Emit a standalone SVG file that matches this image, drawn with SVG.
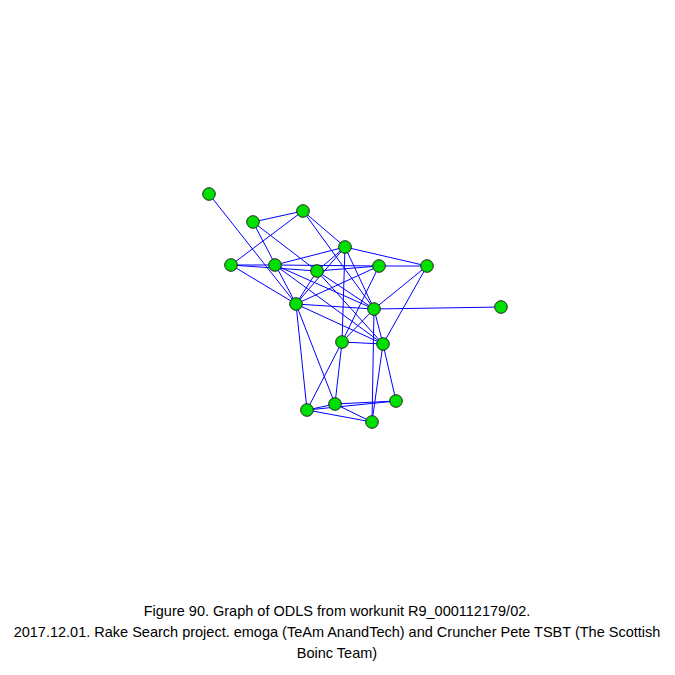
<svg xmlns="http://www.w3.org/2000/svg" width="675" height="675" viewBox="0 0 675 675">
<style>
.e{stroke:#0000ff;stroke-width:1;fill:none}
.n{fill:#00e000;stroke:#222;stroke-width:1}
.t{font-family:"Liberation Sans",Arial,sans-serif;font-size:14.5px;fill:#000;text-anchor:middle}
</style>
<rect width="675" height="675" fill="#fff"/>
<g id="edges">
<line class="e" x1="209" y1="194" x2="296" y2="304"/>
<line class="e" x1="253" y1="222" x2="303" y2="211"/>
<line class="e" x1="253" y1="222" x2="296" y2="304"/>
<line class="e" x1="253" y1="222" x2="317" y2="271"/>
<line class="e" x1="303" y1="211" x2="345" y2="247"/>
<line class="e" x1="303" y1="211" x2="231" y2="265"/>
<line class="e" x1="303" y1="211" x2="374" y2="309"/>
<line class="e" x1="345" y1="247" x2="275" y2="265"/>
<line class="e" x1="345" y1="247" x2="317" y2="271"/>
<line class="e" x1="345" y1="247" x2="427" y2="266"/>
<line class="e" x1="345" y1="247" x2="296" y2="304"/>
<line class="e" x1="345" y1="247" x2="342" y2="342"/>
<line class="e" x1="345" y1="247" x2="374" y2="309"/>
<line class="e" x1="231" y1="265" x2="275" y2="265"/>
<line class="e" x1="231" y1="265" x2="317" y2="271"/>
<line class="e" x1="231" y1="265" x2="296" y2="304"/>
<line class="e" x1="275" y1="265" x2="379" y2="266"/>
<line class="e" x1="275" y1="265" x2="374" y2="309"/>
<line class="e" x1="275" y1="265" x2="383" y2="344"/>
<line class="e" x1="317" y1="271" x2="379" y2="266"/>
<line class="e" x1="317" y1="271" x2="296" y2="304"/>
<line class="e" x1="317" y1="271" x2="374" y2="309"/>
<line class="e" x1="317" y1="271" x2="383" y2="344"/>
<line class="e" x1="379" y1="266" x2="427" y2="266"/>
<line class="e" x1="379" y1="266" x2="296" y2="304"/>
<line class="e" x1="379" y1="266" x2="342" y2="342"/>
<line class="e" x1="427" y1="266" x2="374" y2="309"/>
<line class="e" x1="427" y1="266" x2="383" y2="344"/>
<line class="e" x1="296" y1="304" x2="374" y2="309"/>
<line class="e" x1="296" y1="304" x2="383" y2="344"/>
<line class="e" x1="296" y1="304" x2="307" y2="410"/>
<line class="e" x1="296" y1="304" x2="335" y2="404"/>
<line class="e" x1="374" y1="309" x2="501" y2="307"/>
<line class="e" x1="374" y1="309" x2="342" y2="342"/>
<line class="e" x1="374" y1="309" x2="383" y2="344"/>
<line class="e" x1="374" y1="309" x2="372" y2="422"/>
<line class="e" x1="342" y1="342" x2="383" y2="344"/>
<line class="e" x1="342" y1="342" x2="307" y2="410"/>
<line class="e" x1="342" y1="342" x2="335" y2="404"/>
<line class="e" x1="383" y1="344" x2="396" y2="401"/>
<line class="e" x1="383" y1="344" x2="372" y2="422"/>
<line class="e" x1="307" y1="410" x2="335" y2="404"/>
<line class="e" x1="307" y1="410" x2="396" y2="401"/>
<line class="e" x1="307" y1="410" x2="372" y2="422"/>
<line class="e" x1="335" y1="404" x2="396" y2="401"/>
<line class="e" x1="335" y1="404" x2="372" y2="422"/>
</g>
<g id="nA"><circle class="n" cx="209" cy="194" r="6.3"/></g>
<g id="nB"><circle class="n" cx="253" cy="222" r="6.3"/></g>
<g id="nC"><circle class="n" cx="303" cy="211" r="6.3"/></g>
<g id="nD"><circle class="n" cx="345" cy="247" r="6.3"/></g>
<g id="nE"><circle class="n" cx="231" cy="265" r="6.3"/></g>
<g id="nF"><circle class="n" cx="275" cy="265" r="6.3"/></g>
<g id="nG"><circle class="n" cx="317" cy="271" r="6.3"/></g>
<g id="nH"><circle class="n" cx="379" cy="266" r="6.3"/></g>
<g id="nI"><circle class="n" cx="427" cy="266" r="6.3"/></g>
<g id="nJ"><circle class="n" cx="296" cy="304" r="6.3"/></g>
<g id="nK"><circle class="n" cx="374" cy="309" r="6.3"/></g>
<g id="nL"><circle class="n" cx="501" cy="307" r="6.3"/></g>
<g id="nM"><circle class="n" cx="342" cy="342" r="6.3"/></g>
<g id="nN"><circle class="n" cx="383" cy="344" r="6.3"/></g>
<g id="nO"><circle class="n" cx="307" cy="410" r="6.3"/></g>
<g id="nP"><circle class="n" cx="335" cy="404" r="6.3"/></g>
<g id="nQ"><circle class="n" cx="396" cy="401" r="6.3"/></g>
<g id="nR"><circle class="n" cx="372" cy="422" r="6.3"/></g>
<g id="caption">
<text class="t" x="337" y="616">Figure 90. Graph of ODLS from workunit R9_000112179/02.</text>
<text class="t" x="337" y="637">2017.12.01. Rake Search project. emoga (TeAm AnandTech) and Cruncher Pete TSBT (The Scottish</text>
<text class="t" x="337" y="658">Boinc Team)</text>
</g>
</svg>
